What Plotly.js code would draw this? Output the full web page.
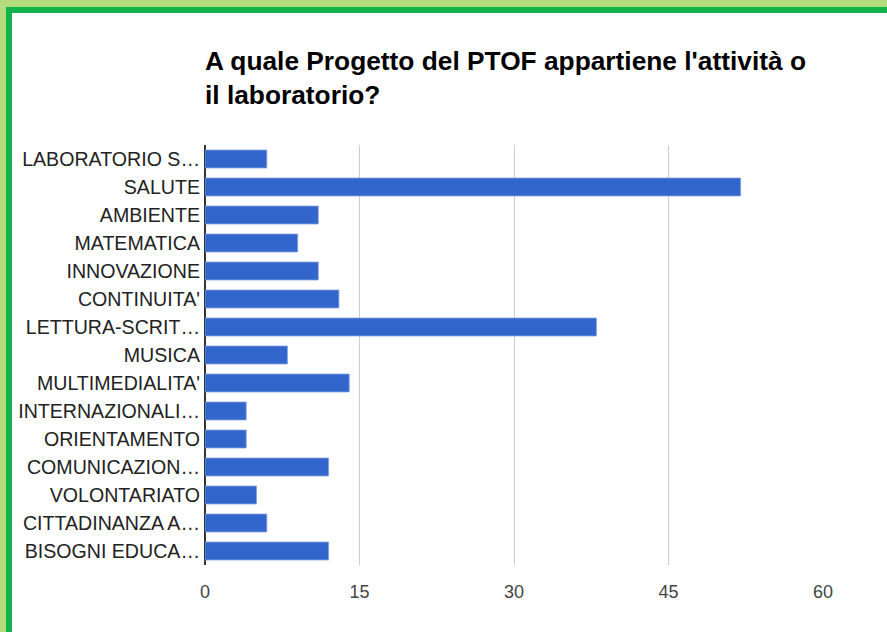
<!DOCTYPE html>
<html>
<head>
<meta charset="utf-8">
<script src="https://cdn.plot.ly/plotly-3.0.1.min.js"></script>
<style>
  html, body { margin: 0; padding: 0; width: 887px; height: 632px; overflow: hidden; background: #b3dc7d; }
  #frame { position: absolute; left: 6px; top: 7px; width: 881px; height: 625px; background: #12b34b; }
  #chart { position: absolute; left: 12px; top: 13px; width: 875px; height: 619px; background: #ffffff; }
</style>
</head>
<body>
<div id="frame"></div>
<div id="chart"></div>
<script>
const titleText = "A quale Progetto del PTOF appartiene l'attività o<br>il laboratorio?";
const categories = [
  "LABORATORIO S…",
  "SALUTE",
  "AMBIENTE",
  "MATEMATICA",
  "INNOVAZIONE",
  "CONTINUITA'",
  "LETTURA-SCRIT…",
  "MUSICA",
  "MULTIMEDIALITA'",
  "INTERNAZIONALI…",
  "ORIENTAMENTO",
  "COMUNICAZION…",
  "VOLONTARIATO",
  "CITTADINANZA A…",
  "BISOGNI EDUCA…"
];
const values = [6, 52, 11, 9, 11, 13, 38, 8, 14, 4, 4, 12, 5, 6, 12];
const xTickValues = [0, 15, 30, 45, 60];

const trace = {
  type: 'bar',
  orientation: 'h',
  x: values,
  y: categories,
  width: 0.64,
  marker: { color: '#3366cc', line: { color: '#7f9fe0', width: 0.8 } },
  hoverinfo: 'x+y'
};

const layout = {
  width: 875,
  height: 619,
  paper_bgcolor: '#ffffff',
  plot_bgcolor: '#ffffff',
  margin: { l: 193, r: 64, t: 132, b: 67, pad: 0 },
  font: { family: 'Arial, "Liberation Sans", sans-serif', color: '#222222' },
  title: {
    text: titleText,
    x: 0, xref: 'paper', xanchor: 'left',
    y: 1 - 57 / 619, yref: 'container', yanchor: 'top',
    font: { family: 'Arial, "Liberation Sans", sans-serif', size: 26.3, color: '#000000', weight: 'bold' }
  },
  xaxis: {
    range: [0, 60],
    tickvals: xTickValues,
    ticktext: xTickValues.map(String),
    showgrid: true,
    gridcolor: '#cccccc',
    gridwidth: 1,
    zeroline: true,
    zerolinecolor: '#333333',
    zerolinewidth: 1.5,
    showline: false,
    ticks: '',
    ticklen: 0,
    ticklabelstandoff: 14,
    tickfont: { size: 18, color: '#444444' },
    fixedrange: true
  },
  yaxis: {
    autorange: 'reversed',
    type: 'category',
    showgrid: false,
    zeroline: false,
    showline: false,
    ticks: '',
    ticklabelstandoff: 4,
    tickfont: { size: 19.6, color: '#222222' },
    fixedrange: true
  },
  bargap: 0.36,
  showlegend: false
};

Plotly.newPlot('chart', [trace], layout, { displayModeBar: false, staticPlot: true });
</script>
</body>
</html>
